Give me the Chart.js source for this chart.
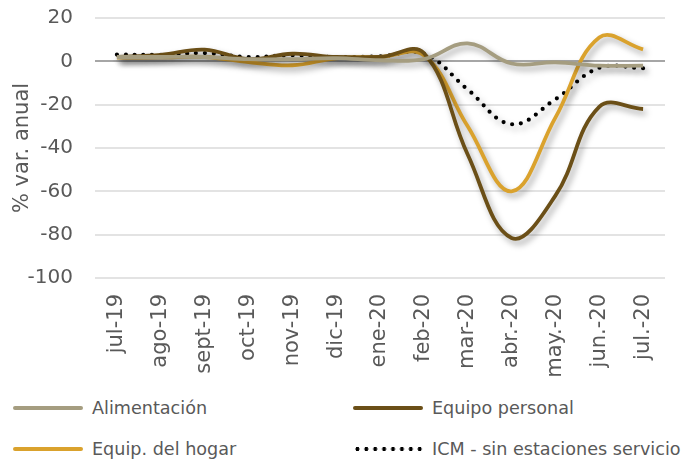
<!DOCTYPE html>
<html><head><meta charset="utf-8">
<script src="https://cdn.jsdelivr.net/npm/chart.js@4/dist/chart.umd.min.js"></script>
<style>
html,body{margin:0;padding:0;background:#fff;}
#wrap{position:relative;width:699px;height:461px;font-family:"DejaVu Sans",sans-serif;}
#c{position:absolute;left:0;top:0;}
.lg{position:absolute;font-size:17.6px;color:#595959;white-space:nowrap;height:24px;line-height:24px;}
.sw{position:absolute;top:10px;width:70px;height:4px;border-radius:2px;}
.tx{position:absolute;left:79px;top:0;}
.dots{position:absolute;top:10px;left:0;width:72px;height:4px;background-image:radial-gradient(circle,#000 1.8px,transparent 2.2px);background-size:8.9px 4px;background-repeat:repeat-x;}
</style></head>
<body><div id="wrap"><canvas id="c" width="699" height="392"></canvas>
<div class="lg" style="left:13px;top:396px"><span class="sw" style="background:#A59D80"></span><span class="tx">Alimentación</span></div>
<div class="lg" style="left:353px;top:396px"><span class="sw" style="background:#6B4F17"></span><span class="tx">Equipo personal</span></div>
<div class="lg" style="left:13px;top:437px"><span class="sw" style="background:#DAA22D"></span><span class="tx">Equip. del hogar</span></div>
<div class="lg" style="left:353px;top:437px"><span class="dots"></span><span class="tx">ICM - sin estaciones servicio</span></div>
</div>
<script>
const categories = ["jul-19","ago-19","sept-19","oct-19","nov-19","dic-19","ene-20","feb-20","mar-20","abr.-20","may.-20","jun.-20","jul.-20"];
const alimentacion = [2, 2, 2, 1, 1, 1.5, 0.5, 1, 8.3, -1, -0.5, -2, -2];
const equipoPersonal = [2, 3, 5.4, 1, 3.5, 2, 2, 3.8, -43, -81.5, -62, -21, -22];
const equipHogar = [1.7, 1.8, 2, -0.3, -1.8, 1.4, 2, 2.8, -30, -60, -26, 11, 5.5];
const icm = [3.1, 3, 3.8, 2, 2.8, 2, 2.3, 3.5, -13, -29, -17.5, -3, -3.2];
const yTicks = [20, 0, -20, -40, -60, -80, -100];

const shadowPlugin = {
  id: 'shadow',
  beforeDatasetDraw(chart){ const c=chart.ctx; c.save(); c.shadowColor='rgba(0,0,0,0.35)'; c.shadowBlur=6; c.shadowOffsetX=3; c.shadowOffsetY=4; },
  afterDatasetDraw(chart){ chart.ctx.restore(); }
};
const FONT = '"DejaVu Sans", sans-serif';
new Chart(document.getElementById('c'), {
  type: 'line',
  data: {
    labels: categories,
    datasets: [
      {label:'Alimentación', data: alimentacion, borderColor:'#A59D80', borderWidth:3.8},
      {label:'Equipo personal', data: equipoPersonal, borderColor:'#6B4F17', borderWidth:3.8},
      {label:'Equip. del hogar', data: equipHogar, borderColor:'#DAA22D', borderWidth:3.8},
      {label:'ICM - sin estaciones servicio', data: icm, borderColor:'#000', borderWidth:4.2, borderDash:[0,8.8], borderCapStyle:'round'}
    ]
  },
  options: {
    responsive:false, animation:false,
    elements:{point:{radius:0}, line:{tension:0.4, fill:false}},
    layout:{padding:{left:0,right:34,top:18,bottom:0}},
    plugins:{legend:{display:false}, tooltip:{enabled:false}},
    scales:{
      x:{offset:true, grid:{display:false}, border:{display:false},
        ticks:{minRotation:90,maxRotation:90,color:'#595959',font:{family:FONT,size:21},padding:8, autoSkip:false},
        afterFit(s){ s.height = 392-278; s.paddingLeft = 0; s.paddingRight = 0; }},
      y:{min:-100,max:20, afterBuildTicks(s){ s.ticks = yTicks.map(v=>({value:v})); },
        grid:{color:c=>c.tick.value===0?'#A6A6A6':'#E3E3E3', lineWidth:2, drawTicks:false},
        border:{display:false},
        ticks:{color:'#595959',font:{family:FONT,size:20},padding:22},
        title:{display:true,text:'% var. anual',color:'#595959',font:{family:FONT,size:21},padding:{top:10,bottom:0}},
        afterFit(s){ s.width = 95; s.paddingTop = 0; s.paddingBottom = 0; }}
    }
  },
  plugins:[shadowPlugin]
});
</script></body></html>
